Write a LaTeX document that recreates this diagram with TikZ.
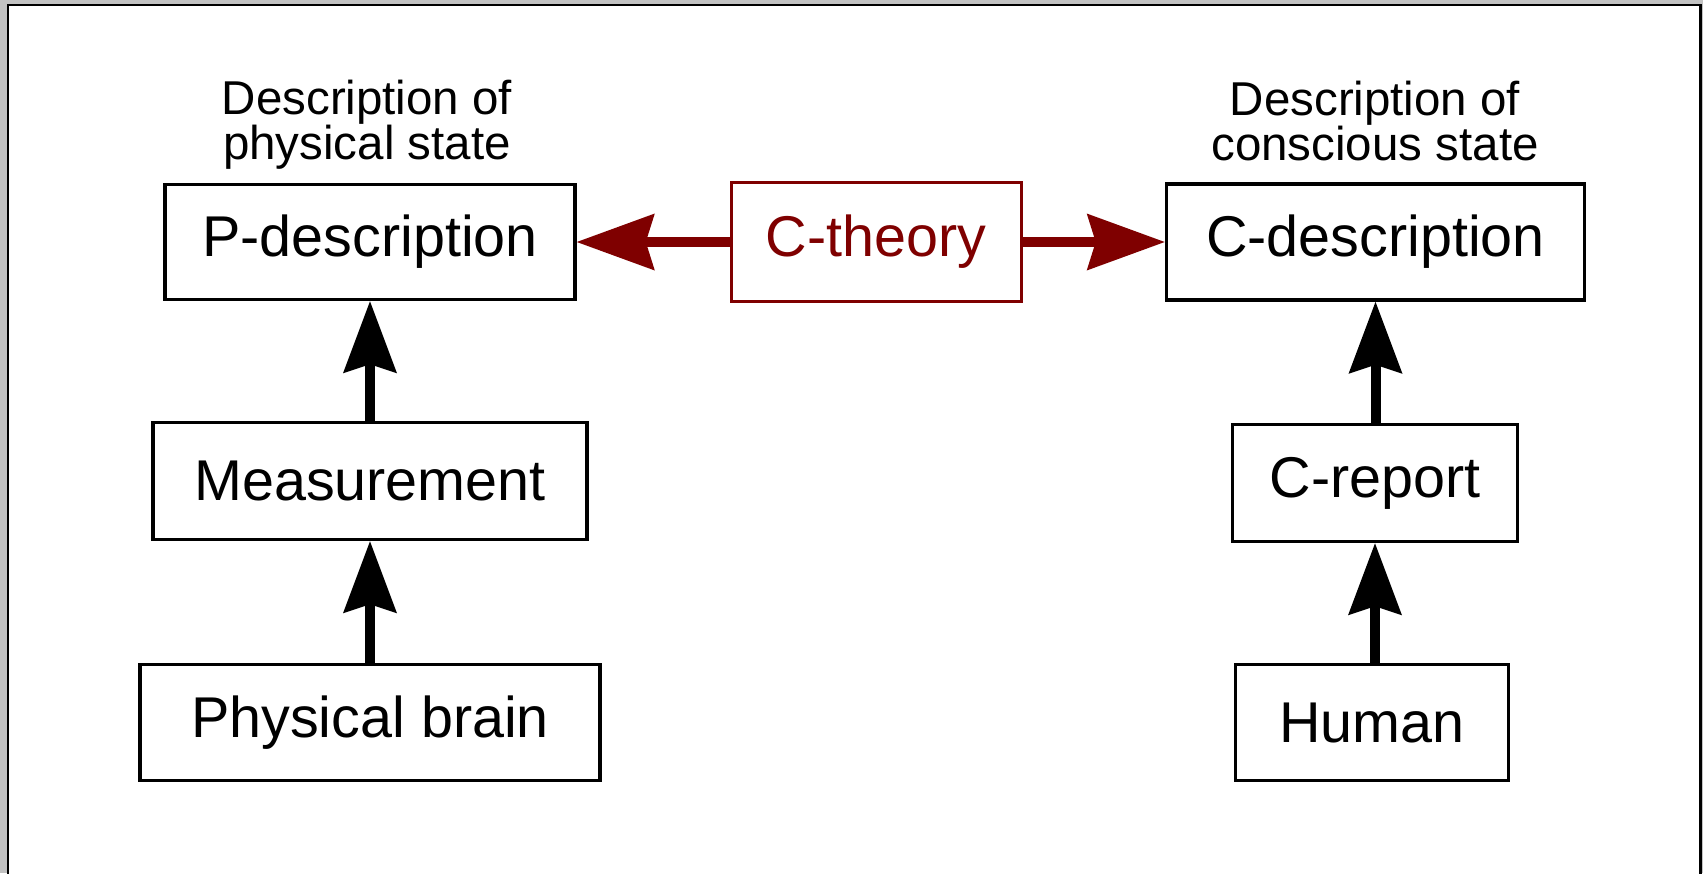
\documentclass[tikz,border=0pt]{standalone}
\usepackage{fontspec}
\setmainfont{Liberation Sans}
\usetikzlibrary{arrows.meta}
\definecolor{ctred}{HTML}{7F0000}
\definecolor{bggray}{HTML}{C2C2C2}

\begin{document}
\begin{tikzpicture}[x=1pt,y=-1pt,
  box/.style={draw=black, line width=3.6pt, fill=white, inner sep=0pt,
    font=\fontsize{57.5}{60}\selectfont},
  theorybox/.style={box, draw=ctred, text=ctred, line width=3pt},
  caption/.style={align=center, inner sep=0pt,
    font=\fontsize{47.5}{45}\selectfont},
  uparrow/.style={line width=10pt,
    -{Stealth[length=72pt,width=54pt,inset=9pt,line width=0pt]}},
  sidearrow/.style={line width=10pt, draw=ctred,
    -{Stealth[length=78pt,width=57pt,inset=9pt,line width=0pt]}},
]
\useasboundingbox (0,0) rectangle (1703,873);
% page background and frame
\fill[bggray] (0,0) rectangle (1703,873);
\fill[white] (7,4) rectangle (1701,880);
\draw[line width=2.5pt] (8,880) -- (8,5) -- (1700.5,5) -- (1700.5,880);

% left column
\node[box, minimum width=410pt, minimum height=115pt] (pd) at (370,242) {P-description};
\node[box, minimum width=434pt, minimum height=117pt] (ms) at (370,481) {Measurement};
\node[box, minimum width=460pt, minimum height=116pt] (pb) at (370,722.5) {Physical brain};
\node[caption] (pcap) at (367,125) {Description of\\physical state};

% centre
\node[theorybox, minimum width=290pt, minimum height=119pt] (ct) at (876,242) {C-theory};

% right column
\node[box, minimum width=418pt, minimum height=116pt] (cd) at (1375.5,242) {C-description};
\node[box, minimum width=285pt, minimum height=117pt] (cr) at (1375,483) {C-report};
\node[box, minimum width=273pt, minimum height=116pt] (hu) at (1372,722.5) {Human};
\node[caption] (ccap) at (1375,121.5) {Description of\\conscious state};

% connectors
\draw[uparrow] (pb.north -| ms.south) -- (ms.south);
\draw[uparrow] (ms.north -| pd.south) -- (pd.south);
\draw[uparrow] (hu.north -| cr.south) -- (cr.south);
\draw[uparrow] (cr.north -| cd.south) -- (cd.south);
\draw[sidearrow] (ct.west) -- (pd.east);
\draw[sidearrow] (ct.east) -- (cd.west);
\end{tikzpicture}
\end{document}
